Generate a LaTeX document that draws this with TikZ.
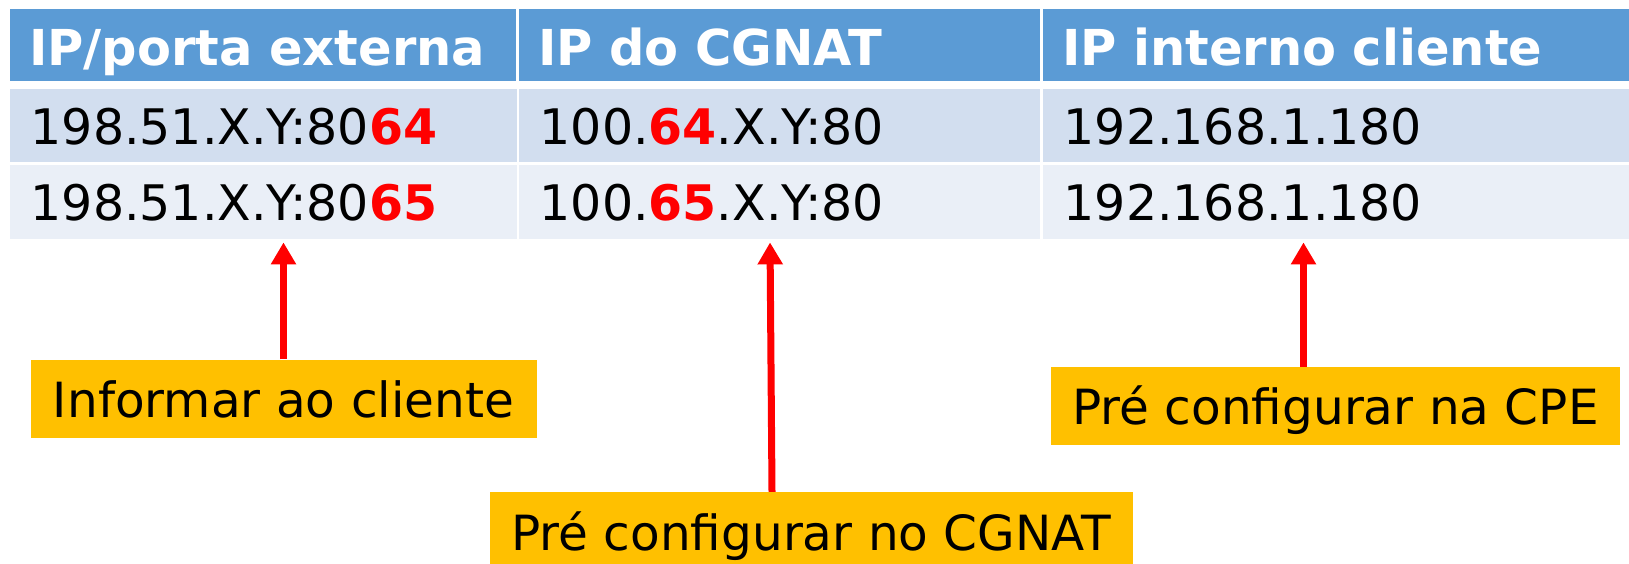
\documentclass[tikz,border=0pt]{standalone}
\usepackage{fontspec}
\setmainfont{DejaVu Sans}
\usetikzlibrary{arrows.meta}
\definecolor{cabazul}{HTML}{5B9BD5}
\definecolor{linhaum}{HTML}{D2DEEF}
\definecolor{linhadois}{HTML}{EAEFF7}
\definecolor{caixa}{HTML}{FFC000}
\newcommand{\destaque}[1]{\textbf{\color{red}#1}}
\tikzset{
	cell/.style={anchor=north west, inner xsep=20.5pt, inner ysep=0pt, align=left,
		font=\fontsize{49}{59}\selectfont, text height=42pt, text depth=5pt},
	hdr/.style={cell, fill=cabazul, text=white, minimum height=72pt, inner xsep=19pt,
		font=\fontsize{49.5}{60}\selectfont\bfseries, text height=44pt, text depth=4pt},
	rowa/.style={cell, fill=linhaum, minimum height=73pt},
	rowb/.style={cell, fill=linhadois, minimum height=74pt},
	cola/.style={text width=466pt},
	colb/.style={text width=480pt},
	colc/.style={text width=545pt},
	aviso/.style={fill=caixa, inner sep=0pt, font=\fontsize{48.5}{58}\selectfont,
		text height=44pt, text depth=6pt, minimum height=78pt},
	seta/.style={draw=red, line width=7pt, shorten >=3pt,
		-{Triangle[length=22pt,width=24pt]}}
}

\begin{document}
\begin{tikzpicture}[x=1pt, y=-1pt]
			%%%%% START %%%%%
			\useasboundingbox (0, 0) rectangle (1629, 563);
			
			% cabecalho
			\node[hdr, text width=468pt] (hdrext) at (10, 9) {IP/porta externa};
			\node[hdr, text width=482.5pt] (hdrcgnat) at (519, 9) {IP do CGNAT};
			\node[hdr, text width=548pt] (hdrint) at (1043, 9) {IP interno cliente};
			
			% linha 1
			\node[rowa, cola] (extum) at (10, 89) {198.51.X.Y:80\destaque{64}};
			\node[rowa, colb] (cgnatum) at (519, 89) {100.\destaque{64}.X.Y:80};
			\node[rowa, colc] (intum) at (1043, 89) {192.168.1.180};
			
			% linha 2
			\node[rowb, cola] (extdois) at (10, 165) {198.51.X.Y:80\destaque{65}};
			\node[rowb, colb] (cgnatdois) at (519, 165) {100.\destaque{65}.X.Y:80};
			\node[rowb, colc] (intdois) at (1043, 165) {192.168.1.180};
			
			% caixas
			\node[aviso, minimum width=506pt] (cliente) at (283.5, 398.5) {Informar ao cliente};
			\node[aviso, minimum width=643pt] (cgnat) at (811, 531) {Pré configurar no CGNAT};
			\node[aviso, minimum width=569pt] (cpe) at (1335.5, 405.8) {Pré configurar na CPE};
			
			% setas
			\draw[seta] (cliente.north) -- (cliente.north |- extdois.south);
			\draw[seta] ([xshift=-39pt]cgnat.north) -- ([xshift=-41pt]cgnat.north |- cgnatdois.south);
			\draw[seta] ([xshift=-32pt]cpe.north) -- ([xshift=-32pt]cpe.north |- intdois.south);
			
			%%%%% END %%%%%
\end{tikzpicture}
\end{document}
